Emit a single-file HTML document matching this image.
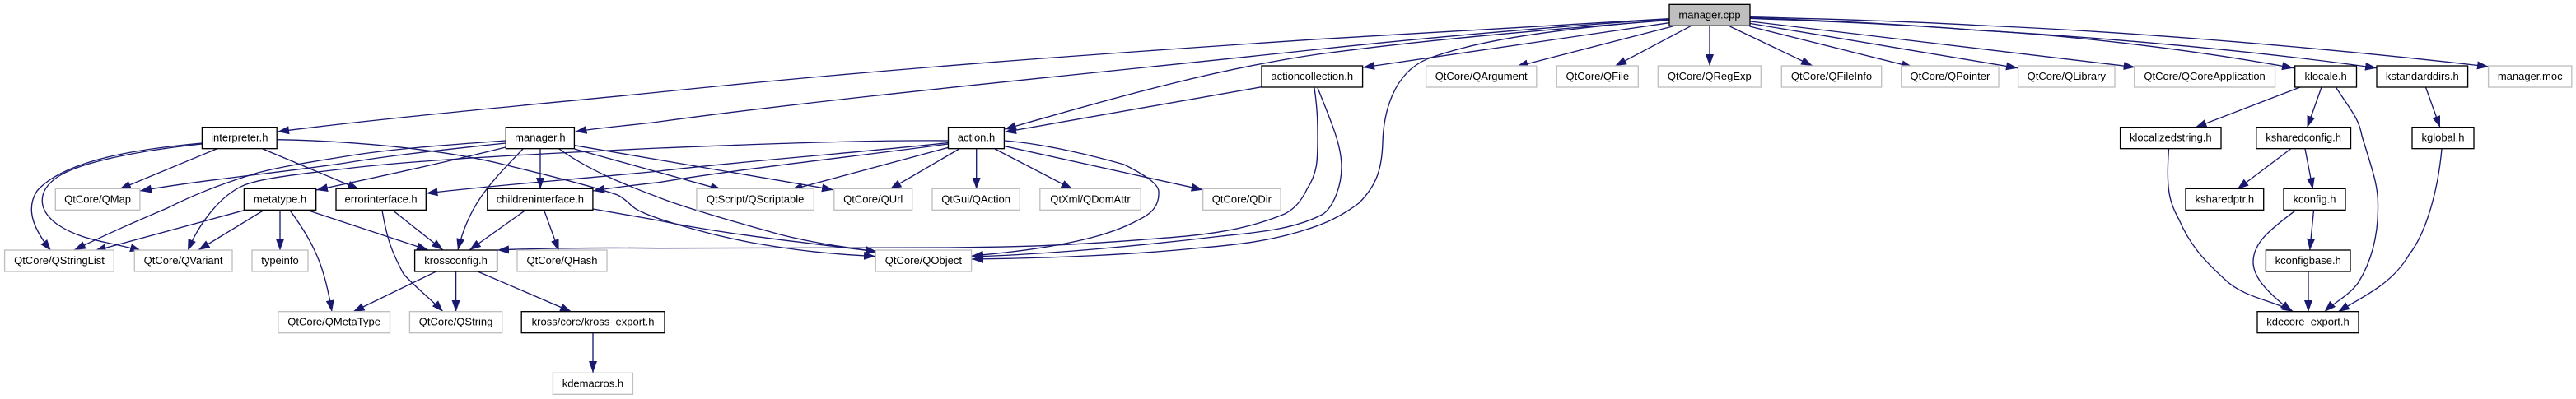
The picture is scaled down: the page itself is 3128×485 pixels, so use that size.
<!DOCTYPE html>
<html><head><meta charset="utf-8"><style>html,body{margin:0;padding:0;background:#fff}svg{display:block}text{font-family:"Liberation Sans",sans-serif;font-size:13px;text-anchor:middle;fill:#000}</style></head><body>
<svg width="3128" height="485" viewBox="0 0 3128 485" xmlns="http://www.w3.org/2000/svg">
<defs><marker id="a" viewBox="0 0 14 10" refX="14" refY="5" markerWidth="14" markerHeight="10" orient="auto" markerUnits="userSpaceOnUse"><path d="M0 0L14 5L0 10Z" fill="#191970"/></marker></defs>
<g fill="none" stroke="#191970" stroke-width="1.33">
<path marker-end="url(#a)" d="M2027 22.7C1840 33 1720 40 1600 47.7C1340 65 1080 83 800 112C650 127 480 142 337 160"/>
<path marker-end="url(#a)" d="M2027 23C1880 33 1730 46 1600 60C1300 92 1020 118 800 148C760 153 730 155 698.5 160"/>
<path marker-end="url(#a)" d="M2027 24.5C1850 38 1720 50 1600 66C1470 85 1350 120 1220 157"/>
<path marker-end="url(#a)" d="M1532 105.7L1220 160.5"/>
<path marker-end="url(#a)" d="M2027 27.7L1655 82"/>
<path marker-end="url(#a)" d="M2027 24C1880 36 1790 50 1733 71.7C1690 90 1680 140 1679 173C1678 205 1672 225 1650 247C1630 262 1610 272 1583 280C1530 297 1470 300 1450 302C1380 309 1280 314 1180 315"/>
<path marker-end="url(#a)" d="M1600 106.7C1615 145 1629 175 1629 203C1629 225 1620 250 1607 260C1570 280 1520 283 1483 287C1400 297 1280 309 1180 312"/>
<path marker-end="url(#a)" d="M1596 106.7C1600 135 1600 150 1600 167C1600 195 1600 210 1587 230C1580 245 1570 255 1560 260C1500 285 1440 287 1383 291.7C1300 298 1250 300 1150 301C1000 302 850 302 800 301.7C720 301 650 302 604 304"/>
<path marker-end="url(#a)" d="M1220 171C1270 175 1330 190 1365 200C1395 215 1407 225 1407 233C1408 250 1398 260 1383 267C1350 285 1310 293 1283 298C1250 304 1215 308 1180 311"/>
<path marker-end="url(#a)" d="M1220 177.7L1460.7 230.7"/>
<path marker-end="url(#a)" d="M1208 181L1302.5 230"/>
<path marker-end="url(#a)" d="M1185.7 181L1185.7 230"/>
<path marker-end="url(#a)" d="M1164.8 181L1080.6 230"/>
<path marker-end="url(#a)" d="M1151.5 179.3L960.7 230.7"/>
<path marker-end="url(#a)" d="M1151.5 175C1040 190 900 205 800 221.7C770 225 745 228 720 232"/>
<path marker-end="url(#a)" d="M1151.5 173.5C1050 185 900 196 800 208C700 218 600 225 517.5 235"/>
<path marker-end="url(#a)" d="M1151.5 171C1050 170 900 176 800 180C650 187 500 195 420 205C350 213 310 218 293 226.7C265 240 240 275 228 305"/>
<path marker-end="url(#a)" d="M263 181L145 230"/>
<path marker-end="url(#a)" d="M319 181L436 230"/>
<path marker-end="url(#a)" d="M245 174C180 180 80 192 45 232C30 255 42 280 62 305"/>
<path marker-end="url(#a)" d="M245 175C180 182 100 195 70 215C45 232 45 255 70 273C100 293 130 293 172 305"/>
<path marker-end="url(#a)" d="M336 169.7C420 171 530 180 612 200C660 212 715 225 750 237C765 245 765 252 780 258C795 265 850 283 913 295C970 305 1010 309 1063 311.5"/>
<path marker-end="url(#a)" d="M614 171C560 175 480 180 420 190C370 198 340 203 313 210C280 220 245 232 203 253C169 267.5 135 282 90 304"/>
<path marker-end="url(#a)" d="M614 174C540 182 480 188 420 198C340 210 250 218 170 232"/>
<path marker-end="url(#a)" d="M614 179C550 195 460 215 384 231"/>
<path marker-end="url(#a)" d="M635 181C600 218 570 245 556 304"/>
<path marker-end="url(#a)" d="M656 181L656 230"/>
<path marker-end="url(#a)" d="M697.4 176.7L1012 230.7"/>
<path marker-end="url(#a)" d="M697.4 181L876.5 230.7"/>
<path marker-end="url(#a)" d="M679 181C715 207 760 225 800 240C830 252 900 272 947 285C990 296 1030 301 1065 306"/>
<path marker-end="url(#a)" d="M720 254L800 268C880 285 980 295 1065 306"/>
<path marker-end="url(#a)" d="M637.8 255.7L570 304"/>
<path marker-end="url(#a)" d="M660.7 255.7L678.6 305"/>
<path marker-end="url(#a)" d="M477 255.7L538 304"/>
<path marker-end="url(#a)" d="M464 255.7C470 290 475 305 490 333C505 350 525 365 538 379"/>
<path marker-end="url(#a)" d="M374 255.7L520 304"/>
<path marker-end="url(#a)" d="M352 255.7C385 300 395 330 403 379"/>
<path marker-end="url(#a)" d="M340 255.7L340 304.5"/>
<path marker-end="url(#a)" d="M320 255.7L240.8 304"/>
<path marker-end="url(#a)" d="M296.4 255.7L114.8 305"/>
<path marker-end="url(#a)" d="M529 330.3L428.6 379"/>
<path marker-end="url(#a)" d="M553.6 330L553.6 379"/>
<path marker-end="url(#a)" d="M580 330L694 379"/>
<path marker-end="url(#a)" d="M720 405L720 453"/>
<path marker-end="url(#a)" d="M2031 32L1841.3 81"/>
<path marker-end="url(#a)" d="M2053 31.7L1961 80.3"/>
<path marker-end="url(#a)" d="M2076 32L2076 80"/>
<path marker-end="url(#a)" d="M2100.5 32L2201 80"/>
<path marker-end="url(#a)" d="M2124.5 32L2323 81.7"/>
<path marker-end="url(#a)" d="M2125.5 28.5L2450 82.7"/>
<path marker-end="url(#a)" d="M2125.5 26L2592.7 81.7"/>
<path marker-end="url(#a)" d="M2125.5 22.3C2220 26 2320 30 2400 36.7C2500 42 2650 58 2785 82.7"/>
<path marker-end="url(#a)" d="M2125.5 21.7C2220 25 2320 30 2400 36.7C2560 46 2740 62 2886 82.7"/>
<path marker-end="url(#a)" d="M2125.5 20.7C2220 23 2320 26 2400 30.7C2600 39 2840 60 3022 81"/>
<path marker-end="url(#a)" d="M2793 106L2665.6 155"/>
<path marker-end="url(#a)" d="M2819 106L2801.6 155"/>
<path marker-end="url(#a)" d="M2836.4 106C2855 135 2864 143 2868 165C2880 205 2888 225 2887.5 250C2888 290 2878 320 2864 343C2852 360 2835 367 2822.5 379"/>
<path marker-end="url(#a)" d="M2945.5 106L2963 155"/>
<path marker-end="url(#a)" d="M2633.5 181C2630 230 2634 245 2646 267C2660 300 2680 320 2702 340C2725 362 2760 365 2785 379"/>
<path marker-end="url(#a)" d="M2781.6 181L2716.6 230"/>
<path marker-end="url(#a)" d="M2799 181L2808.5 230"/>
<path marker-end="url(#a)" d="M2809.5 255.7L2804.8 304"/>
<path marker-end="url(#a)" d="M2787.6 255.7C2755 280 2737 295 2736 317C2735 340 2760 360 2783 379"/>
<path marker-end="url(#a)" d="M2803 330.3L2803 379"/>
<path marker-end="url(#a)" d="M2965 181C2960 235 2945 285 2925 310C2905 345 2870 360 2839 379"/>
</g>
<g fill="#fff" stroke="#000" stroke-width="1.33">
<rect x="2027" y="5.33" width="98" height="26" fill="#bfbfbf"/>
<rect x="245.4" y="154.67" width="90.8" height="26"/>
<rect x="614.3" y="154.67" width="83.1" height="26"/>
<rect x="1151.5" y="154.67" width="67.9" height="26"/>
<rect x="1532" y="80" width="122.6" height="26"/>
<rect x="296.4" y="229.33" width="87.3" height="26"/>
<rect x="408" y="229.33" width="109.3" height="26"/>
<rect x="591.8" y="229.33" width="128.1" height="26"/>
<rect x="503.6" y="304" width="100" height="26"/>
<rect x="633.2" y="378.67" width="173.8" height="26"/>
<rect x="2786.7" y="80" width="74.8" height="26"/>
<rect x="2886" y="80" width="110.6" height="26"/>
<rect x="2574.6" y="154.67" width="122.4" height="26"/>
<rect x="2739.8" y="154.67" width="114.7" height="26"/>
<rect x="2929" y="154.67" width="75" height="26"/>
<rect x="2654" y="229.33" width="94.7" height="26"/>
<rect x="2773" y="229.33" width="75" height="26"/>
<rect x="2751.4" y="304" width="102.6" height="26"/>
<rect x="2741" y="378.67" width="123" height="26"/>
</g>
<g fill="#fff" stroke="#bfbfbf" stroke-width="1.33">
<rect x="67.3" y="229.33" width="102.6" height="26"/>
<rect x="5.6" y="304" width="132.7" height="26"/>
<rect x="163.3" y="304" width="118.7" height="26"/>
<rect x="306" y="304" width="68" height="26"/>
<rect x="628" y="304" width="109" height="26"/>
<rect x="337.8" y="378.67" width="135.7" height="26"/>
<rect x="497.4" y="378.67" width="112.3" height="26"/>
<rect x="671.4" y="453.33" width="97" height="26"/>
<rect x="845.9" y="229.33" width="142.4" height="26"/>
<rect x="1012.8" y="229.33" width="94.9" height="26"/>
<rect x="1132" y="229.33" width="106.3" height="26"/>
<rect x="1262.8" y="229.33" width="122.4" height="26"/>
<rect x="1460.7" y="229.33" width="94.4" height="26"/>
<rect x="1063.3" y="304" width="116.3" height="26"/>
<rect x="1731.6" y="80" width="134.2" height="26"/>
<rect x="1890.3" y="80" width="99" height="26"/>
<rect x="2013.3" y="80" width="125" height="26"/>
<rect x="2163.3" y="80" width="121.4" height="26"/>
<rect x="2308.7" y="80" width="118.3" height="26"/>
<rect x="2450.6" y="80" width="117.4" height="26"/>
<rect x="2591.7" y="80" width="170.9" height="26"/>
<rect x="3021.6" y="80" width="101.2" height="26"/>
</g>
<text x="2076" y="22.3">manager.cpp</text>
<text x="290.8" y="171.7">interpreter.h</text>
<text x="655.9" y="171.7">manager.h</text>
<text x="1185.5" y="171.7">action.h</text>
<text x="1593.3" y="97">actioncollection.h</text>
<text x="340" y="246.3">metatype.h</text>
<text x="462.6" y="246.3">errorinterface.h</text>
<text x="655.9" y="246.3">childreninterface.h</text>
<text x="553.6" y="321">krossconfig.h</text>
<text x="720.1" y="395.7">kross/core/kross_export.h</text>
<text x="2824.1" y="97">klocale.h</text>
<text x="2941.3" y="97">kstandarddirs.h</text>
<text x="2635.8" y="171.7">klocalizedstring.h</text>
<text x="2797.1" y="171.7">ksharedconfig.h</text>
<text x="2966.5" y="171.7">kglobal.h</text>
<text x="2701.3" y="246.3">ksharedptr.h</text>
<text x="2810.5" y="246.3">kconfig.h</text>
<text x="2802.7" y="321">kconfigbase.h</text>
<text x="2802.5" y="395.7">kdecore_export.h</text>
<text x="118.6" y="246.3">QtCore/QMap</text>
<text x="72" y="321">QtCore/QStringList</text>
<text x="222.6" y="321">QtCore/QVariant</text>
<text x="340" y="321">typeinfo</text>
<text x="682.5" y="321">QtCore/QHash</text>
<text x="405.6" y="395.7">QtCore/QMetaType</text>
<text x="553.6" y="395.7">QtCore/QString</text>
<text x="719.9" y="470.3">kdemacros.h</text>
<text x="917.1" y="246.3">QtScript/QScriptable</text>
<text x="1060.2" y="246.3">QtCore/QUrl</text>
<text x="1185.1" y="246.3">QtGui/QAction</text>
<text x="1324" y="246.3">QtXml/QDomAttr</text>
<text x="1507.9" y="246.3">QtCore/QDir</text>
<text x="1121.4" y="321">QtCore/QObject</text>
<text x="1798.7" y="97">QtCore/QArgument</text>
<text x="1939.8" y="97">QtCore/QFile</text>
<text x="2075.8" y="97">QtCore/QRegExp</text>
<text x="2224" y="97">QtCore/QFileInfo</text>
<text x="2367.9" y="97">QtCore/QPointer</text>
<text x="2509.3" y="97">QtCore/QLibrary</text>
<text x="2677.1" y="97">QtCore/QCoreApplication</text>
<text x="3072.2" y="97">manager.moc</text>
</svg>
</body></html>
